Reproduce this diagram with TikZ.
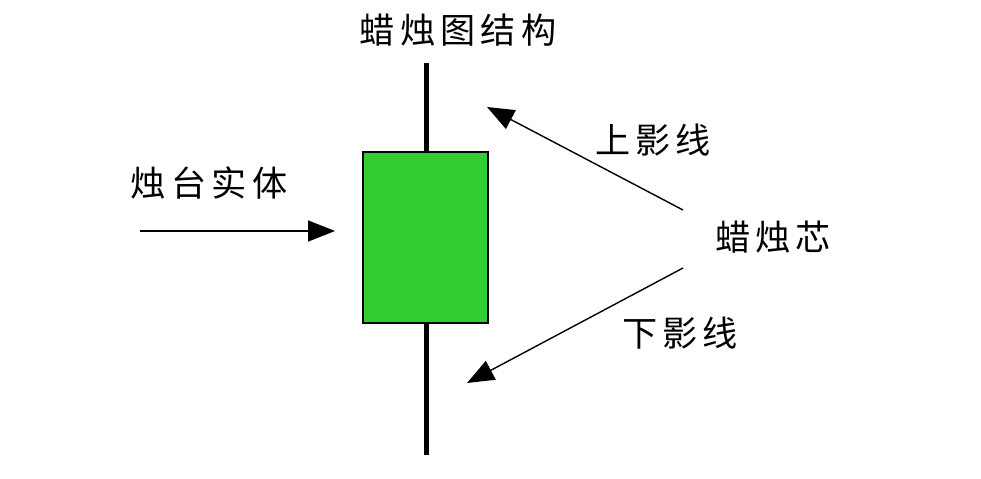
\documentclass[tikz,border=0pt]{standalone}
\usepackage{fontspec}
\newfontfamily\cjk[LetterSpace=15]{Noto Sans CJK SC}
\usetikzlibrary{arrows.meta,positioning,calc}
\definecolor{candle}{RGB}{50, 205, 50}

\begin{document}
\begin{tikzpicture}[>={Triangle[length=0.54cm,width=0.42cm]}]
    % 蜡烛图结构示意
    \useasboundingbox (0,0) rectangle (19.62,9.58);
    \tikzset{label text/.style={font=\cjk\fontsize{20}{24}\selectfont, inner sep=0pt}}

    \node[label text] (title) at (9.16,8.98) {蜡烛图结构};

    \coordinate (wicktop) at (8.53,8.32);
    \coordinate (wickbot) at (8.53,0.48);
    \draw[line width=2.3pt] (wicktop) -- (wickbot);
    \node[draw, line width=1.6pt, fill=candle, minimum width=2.5cm, minimum height=3.42cm] (body) at (8.51,4.83) {};

    \node[label text] (entity) at (4.18,5.92) {烛台实体};
    \node[label text] (upper) at (13.06,6.78) {上影线};
    \node[label text] (core) at (15.46,4.84) {蜡烛芯};
    \node[label text] (lower) at (13.60,2.92) {下影线};

    \coordinate (in1) at (2.80,4.96);
    \coordinate (in2) at (6.70,4.96);
    \coordinate (up1) at (13.66,5.38);
    \coordinate (up2) at (9.74,7.44);
    \coordinate (lo1) at (13.66,4.22);
    \coordinate (lo2) at (9.34,1.92);

    \draw[->, line width=0.9pt] (in1) -- (in2);
    \draw[->, line width=0.8pt] (up1) -- (up2);
    \draw[->, line width=0.8pt] (lo1) -- (lo2);
\end{tikzpicture}
\end{document}
